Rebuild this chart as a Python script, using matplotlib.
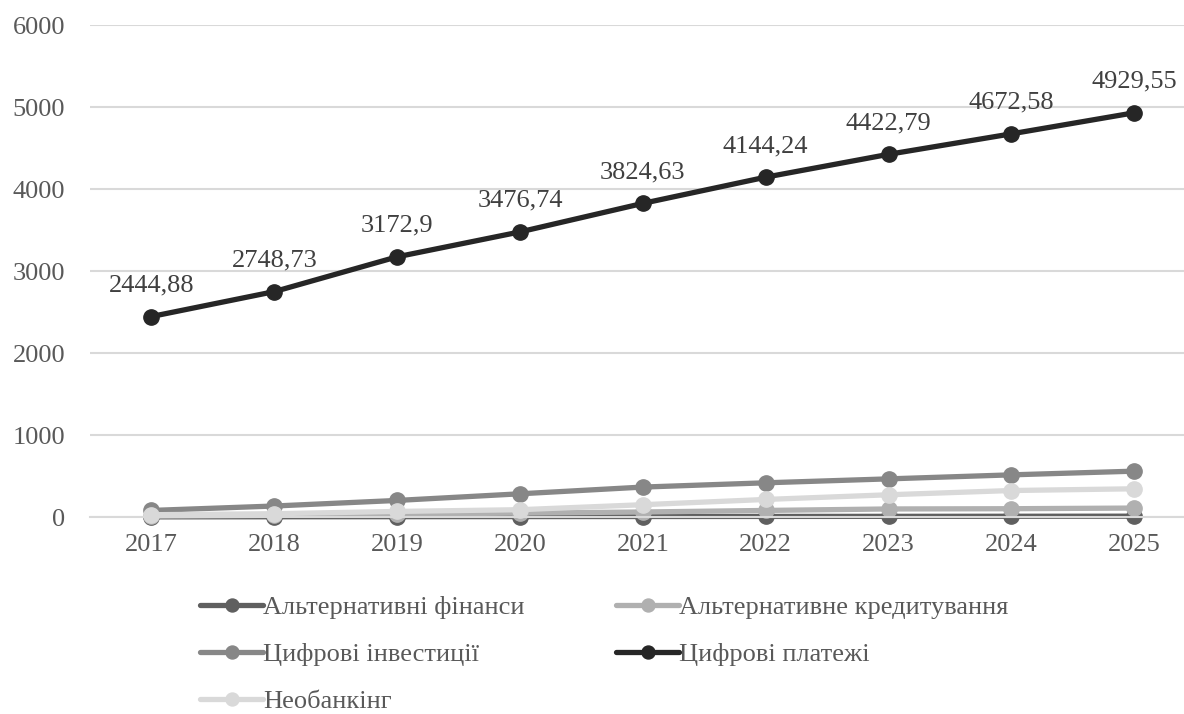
import numpy as np
from matplotlib import pyplot as plt

plt.rcParams['font.family'] = ['Liberation Serif', 'DejaVu Serif']

years = ['2017', '2018', '2019', '2020', '2021', '2022', '2023', '2024', '2025']

alt_finance = [2, 3, 4, 5, 6, 7, 8, 9, 10]
alt_lending = [10, 20, 35, 48, 61, 80, 98, 101, 109]
dig_invest = [80, 134, 202, 283, 365, 417, 465, 514, 559]
dig_payments = [2444.88, 2748.73, 3172.9, 3476.74, 3824.63, 4144.24, 4422.79, 4672.58, 4929.55]
neobanking = [28, 40, 68, 89, 150, 214, 271, 323, 344]

names = ['Альтернативні фінанси', 'Альтернативне кредитування',
         'Цифрові інвестиції', 'Цифрові платежі', 'Необанкінг']
series = [alt_finance, alt_lending, dig_invest, dig_payments, neobanking]
colors = ['#5f5f5f', '#b0b0b0', '#878787', '#262626', '#d9d9d9']

fig = plt.figure(figsize=(11.84, 7.14), dpi=100)
ax = fig.add_axes([90/1184, 1 - 517/714, (1184 - 90)/1184, (517 - 25)/714])

x = np.arange(len(years))
lines = []
for vals, name, c in zip(series, names, colors):
    l, = ax.plot(x, vals, color=c, lw=3.8, marker='o', ms=11, label=name,
                 solid_capstyle='round', clip_on=False)
    lines.append(l)

for xi, v in zip(x, dig_payments):
    lbl = ('%g' % v).replace('.', ',')
    ax.annotate(lbl, (xi, v), xytext=(0, 18), textcoords='offset points',
                ha='center', va='baseline', fontsize=19, color='#404040')

ax.set_xlim(-0.5, 8.405)
ax.set_ylim(0, 6000)
ax.set_yticks(np.arange(0, 6001, 1000))
ax.set_xticks(x)
ax.set_xticklabels(years)
ax.grid(axis='y', color='#d9d9d9', lw=1.5)
ax.set_axisbelow(True)
for s in ['top', 'right', 'left']:
    ax.spines[s].set_visible(False)
ax.spines['bottom'].set_color('#d9d9d9')
ax.spines['bottom'].set_linewidth(1.5)
ax.tick_params(length=0, labelsize=19, labelcolor='#595959')
ax.tick_params(axis='y', pad=18)
ax.tick_params(axis='x', pad=12)

# excel fills legend row by row
order = [0, 2, 4, 1, 3]
fig.legend([lines[i] for i in order], [names[i] for i in order],
           loc='upper left', bbox_to_anchor=(200/1184, 1 - 596/714), ncol=2,
           frameon=False, fontsize=19, labelcolor='#595959', markerscale=0.85,
           handlelength=2.4, handletextpad=0.0, columnspacing=3.45,
           labelspacing=0.88, borderaxespad=0, borderpad=0)

fig.savefig('out.png', dpi=100)
